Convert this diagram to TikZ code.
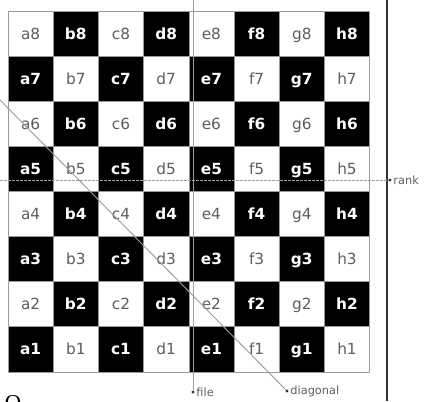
\documentclass[tikz,border=0pt]{standalone}
\usepackage{fontspec}
\setmainfont{DejaVu Sans}
\newfontfamily\captionserif{Liberation Serif}
\usepackage{tikz}
\usetikzlibrary{calc}
\usepackage{xcolor}
\definecolor{squaregray}{HTML}{9a9a9a}
\definecolor{labelgray}{HTML}{5e5e5e}
\definecolor{guidegray}{HTML}{9c9c9c}
\definecolor{framegray}{HTML}{333333}

\tikzset{
  lightsq/.style={draw=squaregray, fill=white, minimum size=33.9pt, inner sep=0pt,
    text height=8.4pt, text depth=0pt, text=labelgray, font=\fontsize{11.5}{13}\selectfont},
  darksq/.style={draw=squaregray, fill=black, minimum size=33.9pt, inner sep=0pt,
    text height=8.4pt, text depth=0pt, text=white, font=\fontsize{11.5}{13}\selectfont\bfseries},
  guideline/.style={guidegray, line width=0.7pt},
  dotmark/.style={circle, fill=framegray, inner sep=0pt, minimum size=2.4pt},
  guidelabel/.style={right, inner sep=1pt, text=labelgray, font=\fontsize{8.5}{10}\selectfont}
}

\begin{document}
\begin{tikzpicture}[x=0.75pt, y=-0.75pt]
  \useasboundingbox (0,0) rectangle (424,401);
  \foreach \f [count=\i from 0] in {a,b,c,d,e,f,g,h} {
    \foreach \r in {1,...,8} {
      \pgfmathtruncatemacro\odd{mod(\i+\r,2)}
      \ifnum\odd=1 \def\sqstyle{darksq}\else\def\sqstyle{lightsq}\fi
      \node[\sqstyle] (\f\r) at ({8+45.2*(\i+0.5)}, {11+45.1*(8.5-\r)}) {\f\r};
    }
  }
  \draw[framegray, line width=1.5pt] (387,0) -- (387,401);

  \coordinate (rankstart) at (0,180);
  \node[dotmark] (rankdot) at (390,180) {};
  \node[guidelabel] (ranklabel) at (rankdot.east) {rank};
  \draw[guideline, dash pattern=on 2pt off 1pt] (rankstart) -- (rankdot);

  \coordinate (filestart) at (193,0);
  \node[dotmark] (filedot) at (193,392) {};
  \node[guidelabel] (filelabel) at (filedot.east) {file};
  \draw[guideline] (filestart) -- (filedot);

  \coordinate (diagstart) at (0,100);
  \node[dotmark] (diagdot) at (287,391) {};
  \node[guidelabel] (diaglabel) at (diagdot.east) {diagonal};
  \draw[guideline] (diagstart) -- (diagdot);

  \node[font=\captionserif\fontsize{17}{20}\selectfont, inner sep=0pt] (cutword) at (13,403) {O};
\end{tikzpicture}
\end{document}
